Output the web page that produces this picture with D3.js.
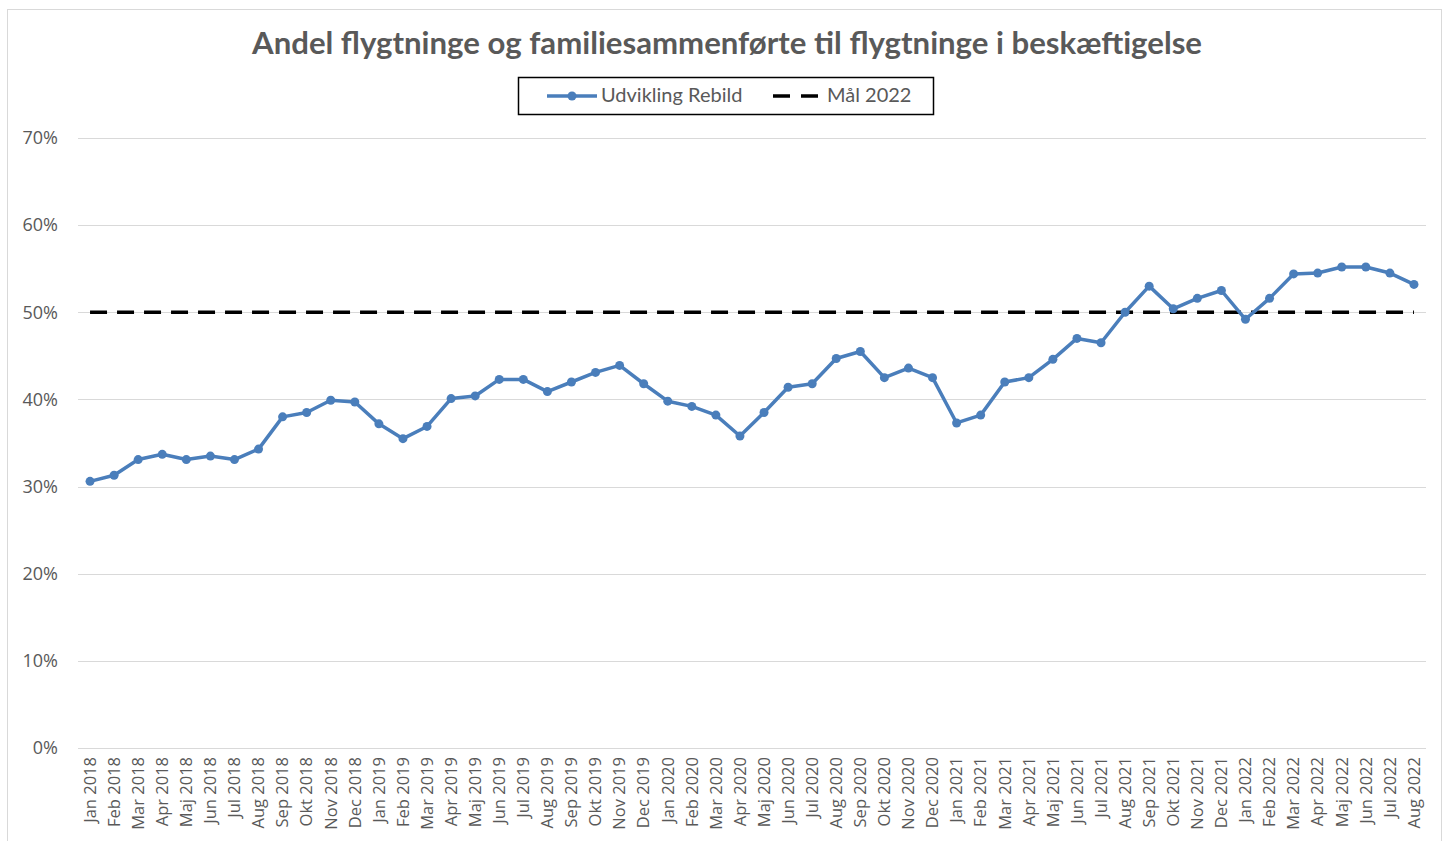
<!DOCTYPE html>
<html>
<head>
<meta charset="utf-8">
<script src="https://cdn.jsdelivr.net/npm/d3@7"></script>
<style>
  body { margin: 0; background: #fff; }
  svg { display: block; font-family: Lato, "Open Sans", sans-serif; }
</style>
</head>
<body>
<svg id="chart" width="1445" height="841"></svg>
<script>
const title = "Andel flygtninge og familiesammenførte til flygtninge i beskæftigelse";
const seriesName = "Udvikling Rebild";
const targetName = "Mål 2022";
const months = ["Jan","Feb","Mar","Apr","Maj","Jun","Jul","Aug","Sep","Okt","Nov","Dec"];
const categories = [];
for (let y = 2018; y <= 2022; y++) {
  for (let m = 0; m < 12; m++) {
    if (y === 2022 && m > 7) break;
    categories.push(months[m] + " " + y);
  }
}
const values = [
  30.6, 31.3, 33.1, 33.7, 33.1, 33.5, 33.1, 34.3, 38.0, 38.5, 39.9, 39.7,
  37.2, 35.5, 36.9, 40.1, 40.4, 42.3, 42.3, 40.9, 42.0, 43.1, 43.9, 41.8,
  39.8, 39.2, 38.2, 35.8, 38.5, 41.4, 41.8, 44.7, 45.5, 42.5, 43.6, 42.5,
  37.3, 38.2, 42.0, 42.5, 44.6, 47.0, 46.5, 50.0, 53.0, 50.4, 51.6, 52.5,
  49.2, 51.6, 54.4, 54.5, 55.2, 55.2, 54.5, 53.2
];
const targetValue = 50;
const yTicks = [0, 10, 20, 30, 40, 50, 60, 70];

const svg = d3.select("#chart");

// outer frame
svg.append("rect").attr("x", 7.5).attr("y", 9.5).attr("width", 1434).attr("height", 840)
  .attr("fill", "#fff").attr("stroke", "#d9d9d9").attr("stroke-width", 1);

const x = d3.scaleBand().domain(categories).range([78, 1426]);
const y = d3.scaleLinear().domain([0, 70]).range([748, 138]);

// gridlines
svg.append("g").selectAll("line").data(yTicks).join("line")
  .attr("x1", 78).attr("x2", 1426)
  .attr("y1", d => Math.round(y(d)) + 0.5).attr("y2", d => Math.round(y(d)) + 0.5)
  .attr("stroke", "#d9d9d9").attr("stroke-width", 1);

// y axis labels
const yAxis = d3.axisLeft(y).tickValues(yTicks).tickFormat(d => d + "%").tickSize(0).tickPadding(0);
const yg = svg.append("g").attr("transform", "translate(58,0)").call(yAxis);
yg.select(".domain").remove();
yg.selectAll("text").attr("fill", "#595959").style("font-size", "18px").style("font-family", "'Open Sans', Lato, sans-serif");

// x axis labels
const xAxis = d3.axisBottom(x).tickSize(0).tickPadding(0);
const xg = svg.append("g").attr("transform", "translate(0,748)").call(xAxis);
xg.select(".domain").remove();
xg.selectAll("text")
  .attr("fill", "#595959")
  .style("font-size", "16.5px")
  .style("font-family", "'Open Sans', Lato, sans-serif")
  .attr("text-anchor", "end")
  .attr("dy", "0.35em")
  .attr("transform", "translate(0,9) rotate(-90)")
  .attr("x", 0).attr("y", 0);

const cx = d => x(d) + x.bandwidth() / 2;

// target dashed line
svg.append("line")
  .attr("x1", cx(categories[0])).attr("x2", cx(categories[categories.length - 1]))
  .attr("y1", y(targetValue)).attr("y2", y(targetValue))
  .attr("stroke", "#000").attr("stroke-width", 3.5)
  .attr("stroke-dasharray", "17,10");

// series line
const data = categories.map((c, i) => ({ c, v: values[i] }));
const line = d3.line().x(d => cx(d.c)).y(d => y(d.v));
svg.append("path").datum(data).attr("d", line)
  .attr("fill", "none").attr("stroke", "#4a7ebb").attr("stroke-width", 3.5)
  .attr("stroke-linejoin", "round");
svg.append("g").selectAll("circle").data(data).join("circle")
  .attr("cx", d => cx(d.c)).attr("cy", d => y(d.v)).attr("r", 4.5)
  .attr("fill", "#4a7ebb");

// title
const t = svg.append("text").attr("x", 727).attr("y", 54)
  .attr("text-anchor", "middle").attr("fill", "#595959")
  .style("font-weight", "bold").style("font-size", "27px")
  .style("font-family", "Lato, 'Open Sans', sans-serif")
  .text(title);
const tw = t.node().getComputedTextLength();
if (tw > 0) t.style("font-size", (27 * 950 / tw).toFixed(2) + "px");

// legend
const lg = svg.append("g");
lg.append("rect").attr("x", 518.5).attr("y", 77.5).attr("width", 415).attr("height", 37)
  .attr("fill", "#fff").attr("stroke", "#000").attr("stroke-width", 1.5);
lg.append("line").attr("x1", 547).attr("x2", 597).attr("y1", 96).attr("y2", 96)
  .attr("stroke", "#4a7ebb").attr("stroke-width", 3.5);
lg.append("circle").attr("cx", 572).attr("cy", 96).attr("r", 4.5).attr("fill", "#4a7ebb");
lg.append("text").attr("x", 601).attr("y", 102).attr("fill", "#595959")
  .style("font-size", "20px").style("font-family", "Lato, 'Open Sans', sans-serif")
  .text(seriesName);
lg.append("line").attr("x1", 773).attr("x2", 818).attr("y1", 96).attr("y2", 96)
  .attr("stroke", "#000").attr("stroke-width", 3.5).attr("stroke-dasharray", "17,11");
lg.append("text").attr("x", 827).attr("y", 102).attr("fill", "#595959")
  .style("font-size", "20px").style("font-family", "Lato, 'Open Sans', sans-serif")
  .text(targetName);
</script>
</body>
</html>
